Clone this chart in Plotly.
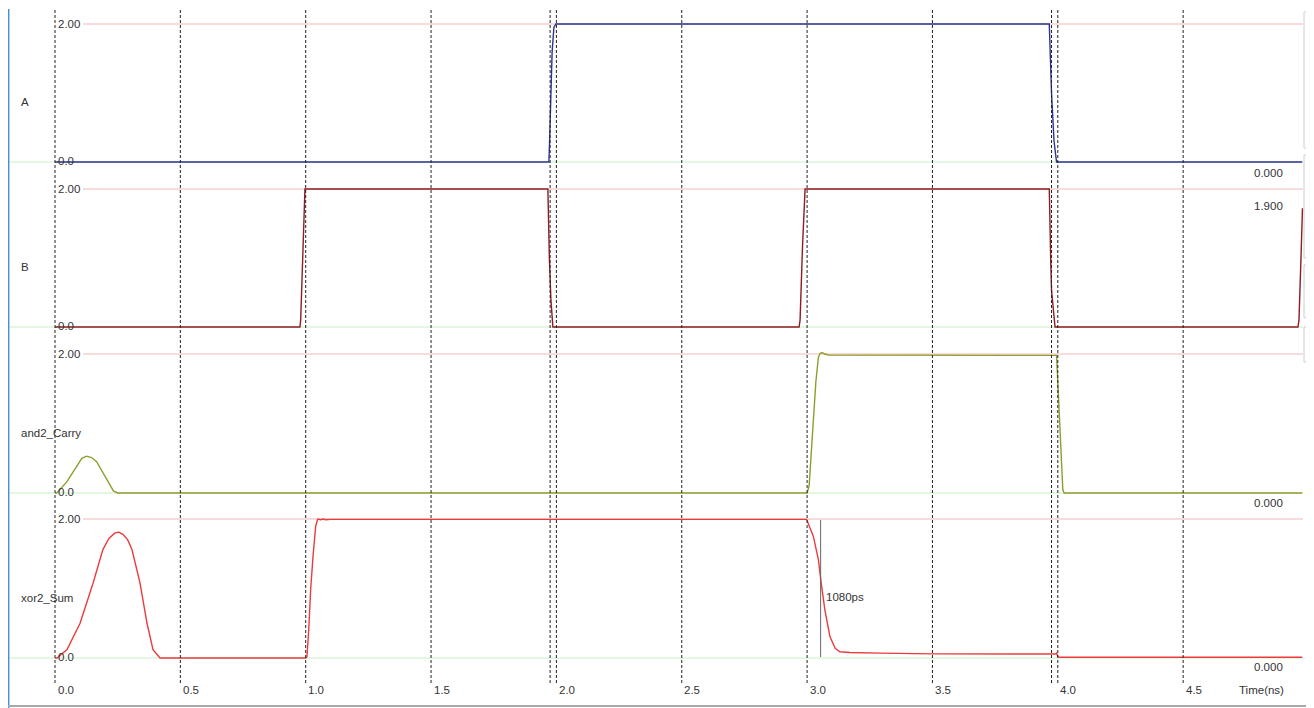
import plotly.graph_objects as go

# ---------------- data (time in ns, voltage in V) ----------------
a_t = [0.0, 1.970, 1.972, 1.978, 1.983, 1.990, 1.998, 3.966, 3.968, 3.975, 3.985, 3.995, 4.975]
a_v = [0.0, 0.0, 0.20, 0.90, 1.60, 1.95, 2.0, 2.0, 1.70, 1.00, 0.30, 0.0, 0.0]

b_t = [0.0, 0.977, 0.980, 0.990, 0.997, 1.966, 1.968, 1.972, 1.978, 1.986,
       2.968, 2.972, 2.982, 2.992, 3.966, 3.967, 3.970, 3.972, 3.975, 3.989,
       4.958, 4.962, 4.970, 4.976]
b_v = [0.0, 0.0, 0.10, 1.20, 2.0, 2.0, 1.35, 1.00, 0.40, 0.0,
       0.0, 0.10, 1.20, 2.0, 2.0, 1.72, 1.36, 0.93, 0.53, 0.0,
       0.0, 0.10, 1.00, 1.72]

c_t = [0.0, 0.007, 0.047, 0.067, 0.087, 0.107, 0.126, 0.146, 0.166, 0.186, 0.206, 0.233, 0.250,
       3.000, 3.008, 3.015, 3.025, 3.035, 3.045, 3.052, 3.060, 3.070, 3.085,
       3.995, 4.000, 4.010, 4.020, 4.025, 4.975]
c_v = [0.0, 0.0, 0.16, 0.28, 0.40, 0.50, 0.53, 0.51, 0.45, 0.32, 0.19, 0.03, 0.0,
       0.0, 0.10, 0.50, 1.10, 1.60, 1.95, 2.01, 2.02, 2.00, 1.985,
       1.98, 1.60, 0.80, 0.05, 0.0, 0.0]

s_t = [0.0, 0.008, 0.048, 0.100, 0.152, 0.191, 0.215, 0.239, 0.255, 0.271, 0.290, 0.307, 0.339, 0.367, 0.391, 0.419,
       1.000, 1.005, 1.012, 1.020, 1.030, 1.040, 1.048, 1.060, 1.070, 1.080, 1.100,
       2.998, 3.025, 3.045, 3.058, 3.071, 3.091, 3.112, 3.131, 3.171, 3.291, 3.502,
       3.990, 3.995, 4.000, 4.010, 4.975]
s_v = [0.0, 0.0, 0.12, 0.50, 1.08, 1.56, 1.72, 1.80, 1.81, 1.78, 1.70, 1.56, 1.08, 0.50, 0.12, 0.0,
       0.0, 0.02, 0.40, 1.00, 1.50, 1.90, 2.00, 1.99, 2.00, 1.99, 1.995,
       1.995, 1.75, 1.415, 1.03, 0.69, 0.31, 0.14, 0.09, 0.08, 0.07, 0.06,
       0.058, 0.07, 0.02, 0.01, 0.01]

signal_names = ["A", "B", "and2_Carry", "xor2_Sum"]
signal_colors = ["#2b3590", "#8e1c22", "#8e9e2e", "#ec3b3b"]
right_values = ["0.000", "1.900", "0.000", "0.000"]

x_ticks = [0.0, 0.5, 1.0, 1.5, 2.0, 2.5, 3.0, 3.5, 4.0, 4.5]
x_tick_labels = ["0.0", "0.5", "1.0", "1.5", "2.0", "2.5", "3.0", "3.5", "4.0", "4.5"]
marker_times = [0.0, 0.5, 1.0, 1.5, 1.975, 2.0, 2.5, 3.0, 3.5, 3.975, 4.0, 4.5]
cursor_time = 3.054
cursor_label = "1080ps"

# ---------------- geometry (screen pixels) ----------------
OFF = 8                # page body margin
W, H = 1306, 700       # figure size; figure occupies screen px 8..1314, 8..708
PX_PER_NS = 250.7
X0_PX = 55.0           # screen px of t = 0
zero_px = [162, 327, 493, 658]
two_px = [24, 189, 354, 519]
panel_bounds = [(8, 172), (172, 337), (337, 503), (503, 690)]


def px_x(p):
    return (p - OFF) / W


def px_y(p):
    return 1 - (p - OFF) / H


fig = go.Figure()
series = [(a_t, a_v), (b_t, b_v), (c_t, c_v), (s_t, s_v)]
axis_ids = ["y", "y2", "y3", "y4"]

for i, (t, v) in enumerate(series):
    fig.add_trace(go.Scatter(x=t, y=v, mode="lines", yaxis=axis_ids[i],
                             line=dict(color=signal_colors[i], width=1.4),
                             hoverinfo="skip", showlegend=False))

layout_axes = {}
for i in range(4):
    top, bot = panel_bounds[i]
    s = (zero_px[i] - two_px[i]) / 2.0
    rng = [(zero_px[i] - bot) / s, (zero_px[i] - top) / s]
    key = "yaxis" if i == 0 else f"yaxis{i + 1}"
    layout_axes[key] = dict(domain=[px_y(bot), px_y(top)], range=rng, visible=False,
                            fixedrange=True)

shapes = []
annotations = []
font = dict(family="Liberation Sans, Arial, sans-serif", size=11.5, color="#333333")

for i in range(4):
    yref = axis_ids[i]
    shapes.append(dict(type="line", xref="paper", yref=yref, x0=px_x(83), x1=px_x(1303),
                       y0=2, y1=2, line=dict(color="#f6b8b8", width=1.2), layer="below"))
    shapes.append(dict(type="line", xref="paper", yref=yref, x0=px_x(8), x1=px_x(1303),
                       y0=0, y1=0, line=dict(color="#c8f0c8", width=1.2), layer="below"))
    annotations.append(dict(text="2.00", xref="paper", yref="paper", x=px_x(55.5), y=px_y(two_px[i]),
                            xanchor="left", yanchor="middle", showarrow=False, font=font))
    annotations.append(dict(text="0.0", xref="paper", yref="paper", x=px_x(55.5), y=px_y(zero_px[i] - 1),
                            xanchor="left", yanchor="middle", showarrow=False, font=font))
    annotations.append(dict(text=signal_names[i], xref="paper", yref="paper", x=px_x(19),
                            y=px_y((zero_px[i] + two_px[i]) / 2 + 9),
                            xanchor="left", yanchor="middle", showarrow=False, font=font))

right_label_px = [173, 206, 503, 667]
for i in range(4):
    annotations.append(dict(text=right_values[i], xref="paper", yref="paper", x=px_x(1285),
                            y=px_y(right_label_px[i]), xanchor="right", yanchor="middle",
                            showarrow=False, font=font))

# vertical dashed time markers
for t in marker_times:
    shapes.append(dict(type="line", xref="x", yref="paper", x0=t, x1=t,
                       y0=px_y(683), y1=px_y(9),
                       line=dict(color="#222222", width=1, dash="3px,2px")))

# cursor
shapes.append(dict(type="line", xref="x", yref="paper", x0=cursor_time, x1=cursor_time,
                   y0=px_y(657), y1=px_y(520), line=dict(color="#666666", width=1)))
annotations.append(dict(text=cursor_label, xref="x", yref="paper", x=cursor_time + 0.012,
                        y=px_y(597), xanchor="left", yanchor="middle", showarrow=False, font=font))

# x tick labels
for t, lab in zip(x_ticks, x_tick_labels):
    annotations.append(dict(text=lab, xref="x", yref="paper", x=t + 0.002, y=px_y(690),
                            xanchor="left", yanchor="middle", showarrow=False, font=font))
annotations.append(dict(text="Time(ns)", xref="paper", yref="paper", x=px_x(1286), y=px_y(690),
                        xanchor="right", yanchor="middle", showarrow=False, font=font))

# window chrome: left blue border, bottom bar, right side boxes
shapes.append(dict(type="line", xref="paper", yref="paper", x0=px_x(8.7), x1=px_x(8.7),
                   y0=px_y(708), y1=px_y(9), line=dict(color="#4a90d9", width=1.5)))
shapes.append(dict(type="line", xref="paper", yref="paper", x0=px_x(8), x1=px_x(1314),
                   y0=px_y(706), y1=px_y(706), line=dict(color="#a8a8a8", width=2)))
for (y0, y1) in [(12, 148), (155, 258), (265, 318), (327, 362)]:
    shapes.append(dict(type="rect", xref="paper", yref="paper", x0=px_x(1304), x1=px_x(1316),
                       y0=px_y(y1), y1=px_y(y0), line=dict(color="#cfcfcf", width=1),
                       fillcolor="rgba(0,0,0,0)"))

fig.update_layout(
    width=W, height=H,
    margin=dict(l=0, r=0, t=0, b=0),
    paper_bgcolor="white", plot_bgcolor="white",
    xaxis=dict(range=[-(X0_PX - OFF) / PX_PER_NS, (OFF + W - X0_PX) / PX_PER_NS],
               visible=False, fixedrange=True),
    shapes=shapes, annotations=annotations,
    hovermode=False, showlegend=False,
    **layout_axes,
)

fig.write_html("out.html")
